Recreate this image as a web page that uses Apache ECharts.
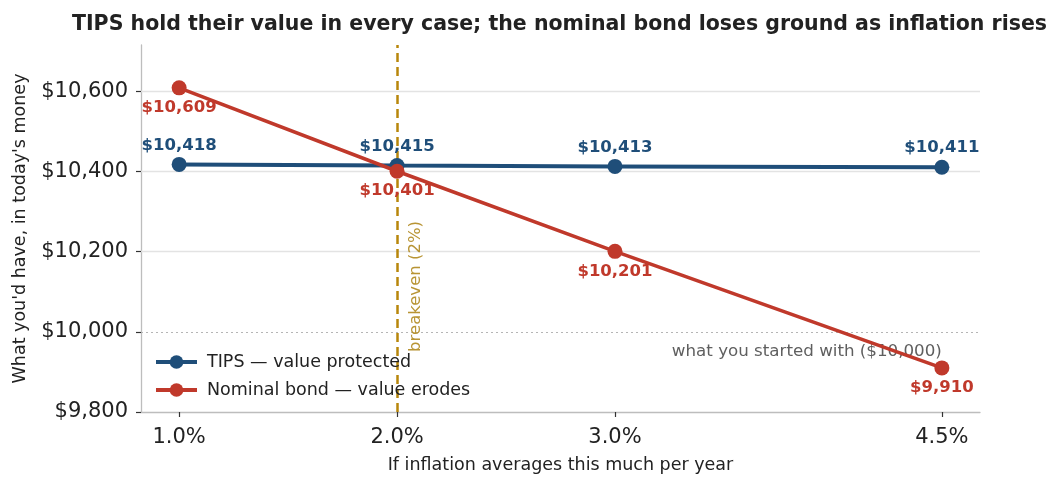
<!DOCTYPE html>
<html>
<head>
<meta charset="utf-8">
<script src="https://cdn.jsdelivr.net/npm/echarts@6/dist/echarts.min.js"></script>
<style>
  html, body { margin: 0; padding: 0; background: #fff; }
  #chart { width: 1055px; height: 479px; }
</style>
</head>
<body>
<div id="chart"></div>
<script>
// Inflation scenarios (average yearly inflation, %)
const inflationRates = [1.0, 2.0, 3.0, 4.5];
// Real value of $10,000 after the holding period
const tipsValues = [10418, 10415, 10413, 10411];
const nominalValues = [10609, 10401, 10201, 9910];
// Axis tick labels
const xTickValues = [1.0, 2.0, 3.0, 4.5];
const yTickValues = [9800, 10000, 10200, 10400, 10600];
const gridValues = [10200, 10400, 10600];
const startingAmount = 10000;
const breakevenRate = 2.0;

const seriesNames = ['TIPS — value protected', 'Nominal bond — value erodes'];
const FONT = 'DejaVu Sans';
const BLUE = '#1f4e79';
const RED = '#c0392b';
const GOLD = '#b8860b';

const money = v => '$' + Math.round(v).toLocaleString('en-US');
const pairs = vals => inflationRates.map((x, i) => [x, vals[i]]);

const chart = echarts.init(document.getElementById('chart'), null, { renderer: 'canvas' });

chart.setOption({
  animation: false,
  backgroundColor: '#ffffff',
  textStyle: { fontFamily: FONT },
  title: {
    text: 'TIPS hold their value in every case; the nominal bond loses ground as inflation rises',
    left: 67,
    top: 9,
    textStyle: { fontFamily: FONT, fontSize: 20.5, fontWeight: 'bold', color: '#222' }
  },
  grid: { left: 141, right: 75, top: 45, bottom: 63, containLabel: false },
  legend: {
    data: seriesNames,
    orient: 'vertical',
    left: 149,
    top: 348,
    itemWidth: 41,
    itemHeight: 17,
    itemGap: 10,
    lineStyle: { width: 4 },
    textStyle: { fontFamily: FONT, fontSize: 17.5, color: '#222', padding: [0, 0, 0, 5] }
  },
  xAxis: {
    type: 'value',
    min: 0.825,
    max: 4.675,
    name: 'If inflation averages this much per year',
    nameLocation: 'middle',
    nameGap: 44,
    nameTextStyle: { fontFamily: FONT, fontSize: 17.5, color: '#222' },
    axisLine: { show: true, lineStyle: { color: '#bdbdbd', width: 1.3 } },
    axisTick: { show: true, customValues: xTickValues, length: 5, lineStyle: { color: '#333', width: 1.2 } },
    axisLabel: {
      customValues: xTickValues,
      formatter: v => v.toFixed(1) + '%',
      margin: 15,
      fontFamily: FONT, fontSize: 21, color: '#222'
    },
    splitLine: { show: false }
  },
  yAxis: {
    type: 'value',
    min: 9800,
    max: 10716,
    name: "What you'd have, in today's money",
    nameLocation: 'middle',
    nameGap: 112,
    nameTextStyle: { fontFamily: FONT, fontSize: 17.5, color: '#222' },
    axisLine: { show: true, lineStyle: { color: '#bdbdbd', width: 1.3 } },
    axisTick: { show: true, customValues: yTickValues, length: 5, lineStyle: { color: '#333', width: 1.2 } },
    axisLabel: {
      customValues: yTickValues,
      formatter: v => money(v),
      margin: 13,
      fontFamily: FONT, fontSize: 21, color: '#222'
    },
    splitLine: { show: false }
  },
  series: [
    {
      // reference lines: grid, starting amount, breakeven
      name: 'guides',
      type: 'line',
      data: [],
      silent: true,
      z: 1,
      markLine: {
        silent: true,
        symbol: 'none',
        z: 1,
        animation: false,
        label: { show: false },
        data: [
          ...gridValues.map(v => ({ yAxis: v, lineStyle: { color: '#e3e3e3', width: 1.3, type: 'solid' } })),
          { yAxis: startingAmount, lineStyle: { color: '#b5b5b5', width: 1, type: [2, 3] } },
          { xAxis: breakevenRate, lineStyle: { color: GOLD, width: 2.5, type: [9, 5] } }
        ]
      },
      markPoint: {
        silent: true,
        symbol: 'circle',
        symbolSize: 0,
        z: 1,
        animation: false,
        data: [
          {
            coord: [breakevenRate, 9950],
            label: {
              show: true,
              formatter: 'breakeven (2%)',
              position: 'inside',
              rotate: 90,
              align: 'left',
              verticalAlign: 'middle',
              offset: [0, 19],
              fontFamily: FONT, fontSize: 16.5,
              color: 'rgba(176,136,30,0.9)'
            }
          },
          {
            coord: [inflationRates[inflationRates.length - 1], startingAmount],
            label: {
              show: true,
              formatter: 'what you started with ($10,000)',
              position: 'inside',
              align: 'right',
              verticalAlign: 'middle',
              offset: [0, 20],
              fontFamily: FONT, fontSize: 16.7,
              color: '#5f5f5f'
            }
          }
        ]
      }
    },
    {
      name: seriesNames[0],
      type: 'line',
      data: pairs(tipsValues),
      z: 3,
      symbol: 'circle',
      symbolSize: 15,
      lineStyle: { color: BLUE, width: 4 },
      itemStyle: { color: BLUE },
      label: {
        show: true,
        position: 'inside',
        offset: [0, -19],
        formatter: p => money(p.value[1]),
        fontFamily: FONT, fontSize: 16.5, fontWeight: 'bold', color: BLUE
      }
    },
    {
      name: seriesNames[1],
      type: 'line',
      data: pairs(nominalValues),
      z: 4,
      symbol: 'circle',
      symbolSize: 15,
      lineStyle: { color: RED, width: 3.6 },
      itemStyle: { color: RED },
      label: {
        show: true,
        position: 'inside',
        offset: [0, 20],
        formatter: p => money(p.value[1]),
        fontFamily: FONT, fontSize: 16.5, fontWeight: 'bold', color: RED
      }
    }
  ]
});
</script>
</body>
</html>
